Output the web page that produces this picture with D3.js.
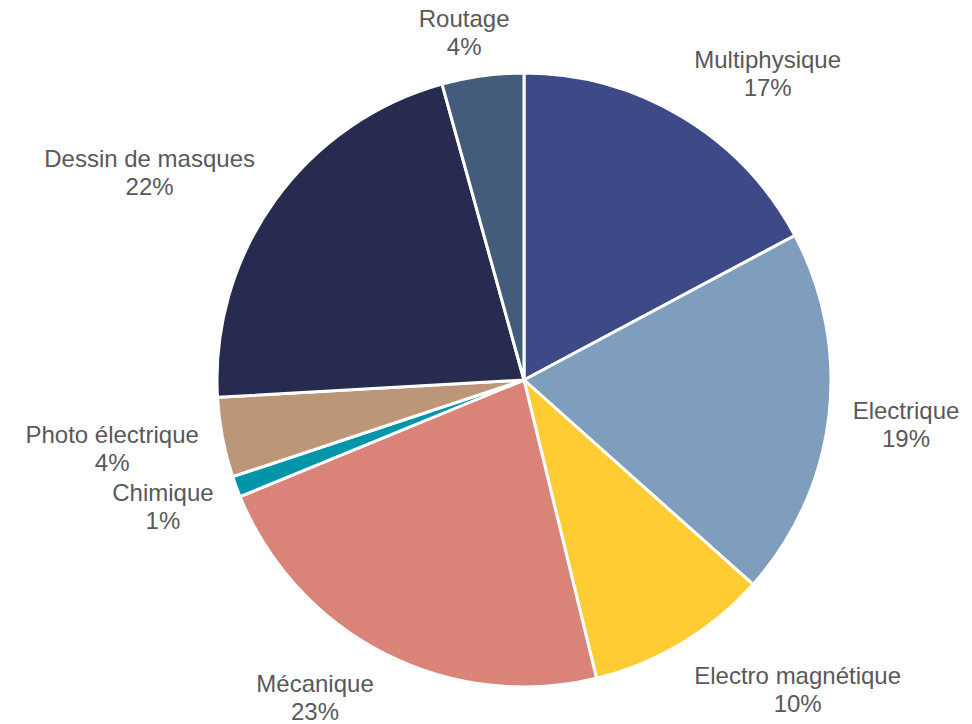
<!DOCTYPE html>
<html>
<head>
<meta charset="utf-8">
<script src="https://cdn.jsdelivr.net/npm/d3@7"></script>
<style>
  body { margin: 0; background: #fff; }
  text { font-family: "Liberation Sans", Arial, sans-serif; font-size: 24px; fill: #595959; }
</style>
</head>
<body>
<div id="chart"></div>
<script>
var categories = ['Multiphysique', 'Electrique', 'Electro magnétique', 'Mécanique', 'Chimique', 'Photo électrique', 'Dessin de masques', 'Routage'];
var shares = [17.2, 19.4, 9.6, 22.6, 1.1, 4.2, 21.6, 4.3];
var shareLabels = ['17%', '19%', '10%', '23%', '1%', '4%', '22%', '4%'];
var colors = ['#3e4a87', '#7f9dbd', '#ffcc33', '#da8379', '#0095a8', '#bc9679', '#262b4f', '#435c7c'];

var width = 972, height = 724;
var cx = 524, cy = 380, radius = 307;

var data = categories.map(function(c, i) { return {label: c, value: shares[i], pct: shareLabels[i], color: colors[i]}; });

var pie = d3.pie().sort(null).value(function(d) { return d.value; });
var arc = d3.arc().innerRadius(0).outerRadius(radius);

var svg = d3.select('#chart').append('svg')
	.attr('width', width)
	.attr('height', height);

var g = svg.append('g').attr('transform', 'translate(' + cx + ',' + cy + ')');

var arcs = pie(data);

g.selectAll('path').data(arcs).enter().append('path')
	.attr('d', arc)
	.style('fill', function(d) { return d.data.color; })
	.style('stroke', '#fff')
	.style('stroke-width', 3)
	.style('stroke-linejoin', 'round');

// labels: box placed just outside the rim, pushed outward along the mid angle
var gap = 24, lineH = 28;
var labels = g.selectAll('.lbl').data(arcs).enter().append('g').attr('class', 'lbl');

labels.append('text').attr('class', 'name').attr('text-anchor', 'middle').text(function(d) { return d.data.label; });
labels.append('text').attr('class', 'pct').attr('text-anchor', 'middle').text(function(d) { return d.data.pct; });

labels.each(function(d) {
	var node = d3.select(this);
	var w = node.select('.name').node().getComputedTextLength();
	var h = 2 * lineH;
	var a = (d.startAngle + d.endAngle) / 2;
	var px = Math.sin(a) * (radius + gap);
	var py = -Math.cos(a) * (radius + gap);
	var kx = Math.max(-1, Math.min(1, 2.5 * Math.sin(a)));
	var x = px + kx * w / 2;
	var y = py - Math.cos(a) * h / 2;
	// keep the two lines inside the picture
	y = Math.max(31 - cy, Math.min(height - 28 - cy, y));
	node.select('.name').attr('x', x).attr('y', y - 4);
	node.select('.pct').attr('x', x).attr('y', y + lineH - 4);
});
</script>
</body>
</html>
